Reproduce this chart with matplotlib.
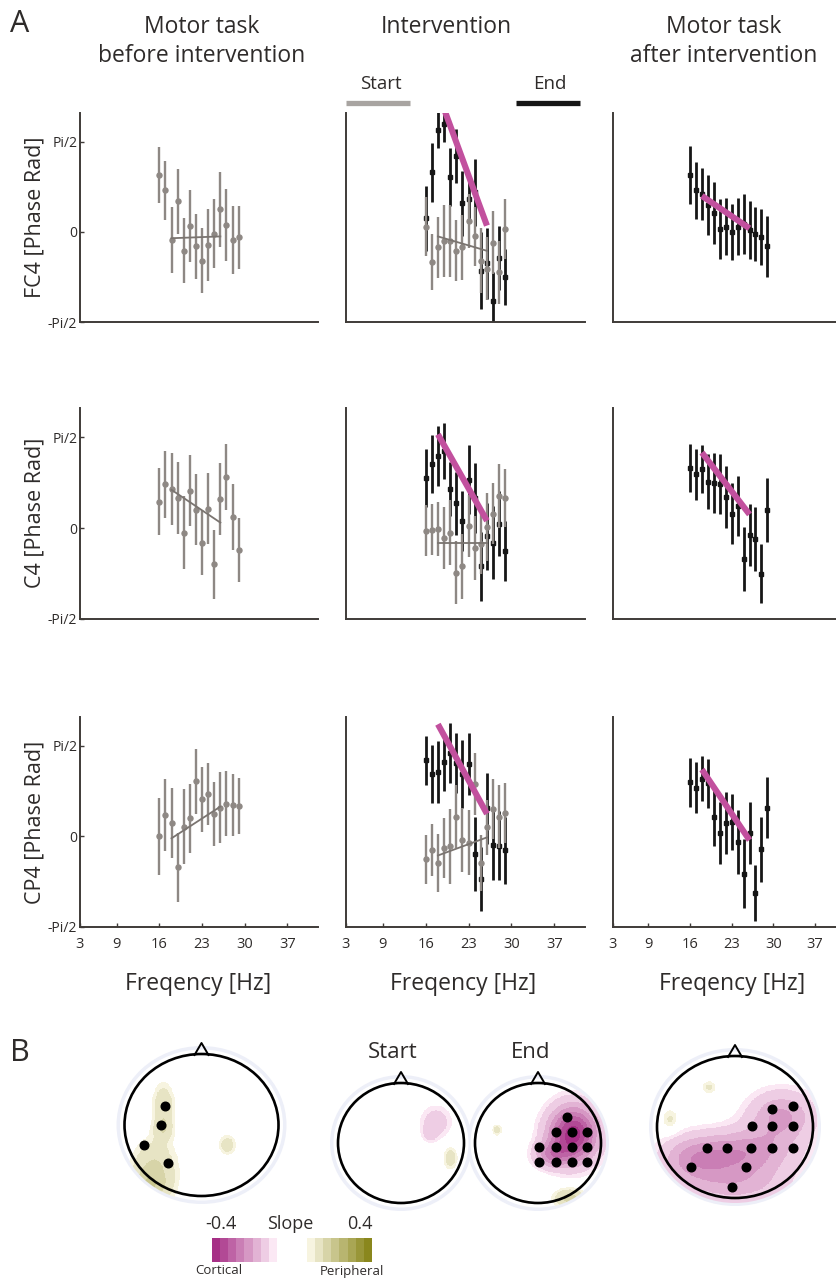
import numpy as np
import matplotlib
matplotlib.use("Agg")
import matplotlib.pyplot as plt
from matplotlib.patches import Ellipse
from matplotlib.colors import ListedColormap, BoundaryNorm, to_rgb

plt.rcParams['font.family'] = ['Open Sans', 'DejaVu Sans']

# ---------------- data (phase in units of pi/2) ----------------
FREQ = [16, 17, 18, 19, 20, 21, 22, 23, 24, 25, 26, 27, 28, 29]
FIT_FREQ = [18, 26]
XTICKS = [3, 9, 16, 23, 30, 37]
XTICK_LABELS = ['3', '9', '16', '23', '30', '37']
YTICKS = [-1, 0, 1]
YTICK_LABELS = ['-Pi/2', '0', 'Pi/2']
ROW_LABELS = ['FC4 [Phase Rad]', 'C4 [Phase Rad]', 'CP4 [Phase Rad]']
COL_TITLES = ['Motor task\nbefore intervention', 'Intervention', 'Motor task\nafter intervention']

FC4_BEFORE = [0.63, 0.46, -0.09, 0.34, -0.21, 0.07, -0.16, -0.32, -0.15, -0.02, 0.25, 0.08, -0.09, -0.06]
FC4_BEFORE_ERR = [0.31, 0.33, 0.37, 0.36, 0.36, 0.40, 0.36, 0.36, 0.40, 0.38, 0.42, 0.40, 0.38, 0.35]
FC4_BEFORE_FIT = [-0.07, -0.05]
C4_BEFORE = [0.29, 0.48, 0.43, 0.33, -0.05, 0.41, 0.20, -0.16, 0.21, -0.40, 0.32, 0.56, 0.12, -0.24]
C4_BEFORE_ERR = [0.37, 0.37, 0.40, 0.40, 0.40, 0.39, 0.39, 0.36, 0.39, 0.38, 0.40, 0.36, 0.36, 0.35]
C4_BEFORE_FIT = [0.42, 0.06]
CP4_BEFORE = [0.0, 0.24, 0.15, -0.34, 0.11, 0.20, 0.61, 0.41, 0.47, 0.25, 0.32, 0.36, 0.35, 0.34]
CP4_BEFORE_ERR = [0.42, 0.40, 0.39, 0.38, 0.41, 0.38, 0.36, 0.36, 0.34, 0.35, 0.39, 0.36, 0.34, 0.31]
CP4_BEFORE_FIT = [-0.02, 0.33]

FC4_START = [0.06, -0.33, -0.17, -0.10, -0.10, -0.21, -0.17, 0.12, -0.05, -0.32, -0.41, -0.12, -0.45, 0.03]
FC4_START_ERR = [0.33, 0.31, 0.34, 0.40, 0.40, 0.34, 0.36, 0.30, 0.33, 0.36, 0.35, 0.35, 0.35, 0.33]
FC4_START_FIT = [-0.05, -0.21]
FC4_END = [0.15, 0.66, 1.13, 1.20, 0.61, 0.84, 0.32, 0.37, 0.44, -0.43, -0.35, -0.77, -0.29, -0.50]
FC4_END_ERR = [0.36, 0.33, 0.20, 0.20, 0.32, 0.30, 0.36, 0.27, 0.37, 0.43, 0.39, 0.32, 0.36, 0.31]
FC4_END_FIT = [1.55, 0.07]
C4_START = [-0.03, -0.02, -0.01, -0.11, -0.05, -0.49, -0.42, 0.02, -0.22, -0.17, 0.01, 0.16, 0.35, 0.33]
C4_START_ERR = [0.28, 0.28, 0.30, 0.34, 0.36, 0.35, 0.36, 0.34, 0.35, 0.33, 0.37, 0.34, 0.35, 0.32]
C4_START_FIT = [-0.16, -0.16]
C4_END = [0.55, 0.70, 0.79, 0.85, 0.43, 0.27, 0.08, 0.53, 0.33, -0.42, -0.09, -0.16, 0.05, -0.25]
C4_END_ERR = [0.32, 0.32, 0.33, 0.31, 0.30, 0.35, 0.33, 0.38, 0.38, 0.38, 0.37, 0.40, 0.36, 0.33]
C4_END_FIT = [1.03, 0.08]
CP4_START = [-0.25, -0.15, -0.29, -0.13, -0.11, 0.22, -0.04, -0.07, 0.58, -0.29, 0.10, 0.30, 0.22, 0.26]
CP4_START_ERR = [0.27, 0.29, 0.32, 0.33, 0.41, 0.35, 0.35, 0.36, 0.34, 0.31, 0.30, 0.33, 0.35, 0.33]
CP4_START_FIT = [-0.21, -0.01]
CP4_END = [0.84, 0.69, 0.71, 0.82, 0.92, 0.81, 0.69, 0.80, -0.19, -0.47, 0.31, -0.09, -0.10, -0.15]
CP4_END_ERR = [0.27, 0.32, 0.34, 0.32, 0.33, 0.33, 0.38, 0.34, 0.41, 0.35, 0.39, 0.39, 0.38, 0.37]
CP4_END_FIT = [1.24, 0.25]

FC4_AFTER = [0.63, 0.46, 0.42, 0.30, 0.21, 0.03, 0.06, 0.0, 0.06, 0.09, 0.02, -0.02, -0.06, -0.16]
FC4_AFTER_ERR = [0.32, 0.32, 0.29, 0.33, 0.34, 0.33, 0.32, 0.31, 0.32, 0.33, 0.32, 0.30, 0.31, 0.34]
FC4_AFTER_FIT = [0.40, 0.04]
C4_AFTER = [0.66, 0.59, 0.65, 0.51, 0.50, 0.48, 0.34, 0.16, 0.24, -0.34, -0.08, -0.12, -0.50, 0.20]
C4_AFTER_ERR = [0.26, 0.28, 0.26, 0.30, 0.33, 0.33, 0.34, 0.33, 0.33, 0.35, 0.34, 0.35, 0.32, 0.35]
C4_AFTER_FIT = [0.83, 0.15]
CP4_AFTER = [0.60, 0.54, 0.64, 0.59, 0.21, 0.04, 0.15, 0.16, -0.06, -0.41, 0.04, -0.62, -0.14, 0.32]
CP4_AFTER_ERR = [0.27, 0.28, 0.25, 0.27, 0.32, 0.34, 0.34, 0.31, 0.35, 0.38, 0.34, 0.31, 0.36, 0.34]
CP4_AFTER_FIT = [0.74, -0.04]

# topographies: blobs (x, y, sx, sy, slope) in head-normalised units; electrodes (x, y)
TOPO_BEFORE_BLOBS = [(-0.50, 0.28, 0.10, 0.22, 0.09), (-0.50, -0.05, 0.09, 0.12, 0.07),
                     (-0.62, -0.62, 0.20, 0.28, 0.11), (-0.75, -0.90, 0.20, 0.15, 0.10),
                     (0.33, -0.28, 0.08, 0.10, 0.08)]
TOPO_BEFORE_ELEC = [(-0.48, 0.27), (-0.53, 0.0), (-0.75, -0.28), (-0.43, -0.53)]
TOPO_START_BLOBS = [(0.55, 0.35, 0.18, 0.20, -0.08), (0.45, 0.15, 0.08, 0.10, -0.05),
                    (0.78, -0.25, 0.08, 0.14, 0.08)]
TOPO_START_ELEC = []
TOPO_END_BLOBS = [(0.55, 0.15, 0.28, 0.33, -0.38), (0.20, -0.20, 0.20, 0.15, -0.15),
                  (-0.66, 0.22, 0.06, 0.07, 0.07), (0.50, -0.92, 0.18, 0.12, 0.12)]
TOPO_END_ELEC = [(0.46, 0.44), (0.29, 0.18), (0.54, 0.18), (0.78, 0.18),
                 (0.02, -0.07), (0.29, -0.07), (0.54, -0.07), (0.78, -0.07),
                 (0.02, -0.31), (0.29, -0.31), (0.54, -0.31), (0.78, -0.31)]
TOPO_AFTER_BLOBS = [(0.60, 0.15, 0.30, 0.25, -0.16), (0.10, -0.35, 0.45, 0.22, -0.17),
                    (-0.55, -0.45, 0.30, 0.22, -0.13), (0.0, -0.80, 0.50, 0.22, -0.12),
                    (-0.33, 0.56, 0.07, 0.07, 0.06), (-0.83, 0.10, 0.08, 0.12, 0.06)]
TOPO_AFTER_ELEC = [(0.48, 0.26), (0.74, 0.30), (0.22, 0.02), (0.48, 0.02), (0.74, 0.02),
                   (-0.36, -0.29), (-0.10, -0.29), (0.20, -0.29), (0.48, -0.29), (0.74, -0.29),
                   (-0.56, -0.57), (0.14, -0.57), (-0.04, -0.85)]
SLOPE_LIMITS = ['-0.4', '0.4']

# ---------------- styles ----------------
W, H = 837, 1279
GRAY = '#8e8884'
BLACK = '#161616'
MAGENTA = '#c2509e'
SPINE = '#3f3b38'
TXT = '#2e2b2a'

fig = plt.figure(figsize=(W / 100, H / 100), dpi=100)
bg = fig.add_axes([0, 0, 1, 1])
bg.set_xlim(0, W)
bg.set_ylim(H, 0)
bg.axis('off')


def px_axes(x0, y0, x1, y1):
    ax = fig.add_axes([x0 / W, 1 - y1 / H, (x1 - x0) / W, (y1 - y0) / H])
    ax.set_facecolor('none')
    return ax


rows_y = [(113, 322), (408, 619), (717, 927)]
cols_x = [(80, 318, 42.0), (346, 585, 42.0), (612.6, 837, 40.7)]

before = [(FC4_BEFORE, FC4_BEFORE_ERR, FC4_BEFORE_FIT), (C4_BEFORE, C4_BEFORE_ERR, C4_BEFORE_FIT),
          (CP4_BEFORE, CP4_BEFORE_ERR, CP4_BEFORE_FIT)]
start = [(FC4_START, FC4_START_ERR, FC4_START_FIT), (C4_START, C4_START_ERR, C4_START_FIT),
         (CP4_START, CP4_START_ERR, CP4_START_FIT)]
end = [(FC4_END, FC4_END_ERR, FC4_END_FIT), (C4_END, C4_END_ERR, C4_END_FIT),
       (CP4_END, CP4_END_ERR, CP4_END_FIT)]
after = [(FC4_AFTER, FC4_AFTER_ERR, FC4_AFTER_FIT), (C4_AFTER, C4_AFTER_ERR, C4_AFTER_FIT),
         (CP4_AFTER, CP4_AFTER_ERR, CP4_AFTER_FIT)]


def draw_gray(ax, vals, errs, fit):
    ax.errorbar(FREQ, vals, yerr=errs, fmt='o', color=GRAY, ms=3.6, elinewidth=1.7,
                capsize=0, zorder=3)
    ax.plot(FIT_FREQ, fit, color='#7a7470', lw=1.3, zorder=4)


def draw_black(ax, vals, errs, fit):
    ax.errorbar(FREQ, vals, yerr=errs, fmt='s', color=BLACK, ms=3.4, elinewidth=2.0,
                capsize=0, zorder=2)
    ax.plot(FIT_FREQ, fit, color=MAGENTA, lw=4.4, solid_capstyle='butt', zorder=5)


for r, (y0, y1) in enumerate(rows_y):
    for c, (x0, x1, xmax) in enumerate(cols_x):
        ax = px_axes(x0, y0, x1, y1)
        ax.set_xlim(3, xmax)
        ax.set_ylim(-1, 1.32)
        for s in ['top', 'right']:
            ax.spines[s].set_visible(False)
        for s in ['left', 'bottom']:
            ax.spines[s].set_color(SPINE)
            ax.spines[s].set_linewidth(1.4)
        if c == 0:
            draw_gray(ax, *before[r])
            ax.set_yticks(YTICKS)
            ax.set_yticklabels(YTICK_LABELS, fontsize=10, color=TXT)
            ax.tick_params(axis='y', direction='in', length=3, width=1, color=SPINE, pad=2)
        elif c == 1:
            draw_black(ax, *end[r])
            draw_gray(ax, *start[r])
            ax.set_yticks([])
        else:
            draw_black(ax, *after[r])
            ax.set_yticks([])
        if r == 2:
            ax.set_xticks(XTICKS)
            ax.set_xticklabels(XTICK_LABELS, fontsize=10.5, color=TXT)
            ax.tick_params(axis='x', direction='in', length=3, width=1, color=SPINE, pad=7)
        else:
            ax.set_xticks([])

# texts, panel A
bg.text(10, 24, 'A', fontsize=22, color=TXT, va='center', ha='left')
bg.text(10, 1053, 'B', fontsize=22, color=TXT, va='center', ha='left')
title_x = [202, 446, 724]
for tx, t in zip(title_x, COL_TITLES):
    bg.text(tx, 15, t, fontsize=16.5, color=TXT, ha='center', va='top', linespacing=1.25,
            multialignment='center')
row_centers = [217, 513, 822]
for yc, lab in zip(row_centers, ROW_LABELS):
    bg.text(35, yc, lab, fontsize=15.5, color=TXT, rotation=90, ha='center', va='center')
for xc in [198, 463, 732]:
    bg.text(xc, 984, 'Freqency [Hz]', fontsize=16.5, color=TXT, ha='center', va='center')

# Start / End legend
bg.text(381, 84, 'Start', fontsize=13.5, color=TXT, ha='center', va='center')
bg.text(550, 84, 'End', fontsize=13.5, color=TXT, ha='center', va='center')
bg.plot([346, 410], [102.5, 102.5], color='#a8a4a1', lw=3.8, solid_capstyle='butt')
bg.plot([516, 580], [102.5, 102.5], color=BLACK, lw=3.8, solid_capstyle='butt')

# ---------------- panel B: topographies ----------------
neg = [np.array(to_rgb('#a62f86')) * (1 - t) + np.array(to_rgb('#fbe8f4')) * t for t in np.linspace(0, 1, 8)]
pos = [np.array(to_rgb('#f7f4e0')) * (1 - t) + np.array(to_rgb('#8a871d')) * t for t in np.linspace(0, 1, 8)]
cmap = ListedColormap(neg + pos)
norm = BoundaryNorm(np.linspace(-0.4, 0.4, 17), cmap.N)

heads = [((201.5, 1125, 77, 71), TOPO_BEFORE_BLOBS, TOPO_BEFORE_ELEC),
         ((401, 1143, 63, 60), TOPO_START_BLOBS, TOPO_START_ELEC),
         ((538, 1143, 63, 60), TOPO_END_BLOBS, TOPO_END_ELEC),
         ((735, 1127, 78, 71), TOPO_AFTER_BLOBS, TOPO_AFTER_ELEC)]

g = np.linspace(-1.15, 1.15, 240)
GX, GY = np.meshgrid(g, g)
for (cx, cy, hw, hh), blobs, elecs in heads:
    halo = Ellipse((cx, cy), 2 * hw + 16, 2 * hh + 16, facecolor='#edeff8', edgecolor='none', zorder=1)
    bg.add_patch(halo)
    inner = Ellipse((cx, cy), 2 * hw + 9, 2 * hh + 9, facecolor='white', edgecolor='none', zorder=1.5)
    bg.add_patch(inner)
    field = np.zeros_like(GX)
    for bx, by, sx, sy, amp in blobs:
        field += amp * np.exp(-((GX - bx) ** 2 / (2 * sx ** 2) + (GY - by) ** 2 / (2 * sy ** 2)))
    field = np.ma.masked_where(np.abs(field) < 0.03, field)
    im = bg.imshow(field, cmap=cmap, norm=norm, origin='lower', aspect='auto',
                   extent=(cx - 1.15 * hw, cx + 1.15 * hw, cy + 1.15 * hh, cy - 1.15 * hh),
                   interpolation='nearest', zorder=2)
    clip = Ellipse((cx, cy), 2 * hw + 10, 2 * hh + 10, transform=bg.transData, facecolor='none', edgecolor='none')
    bg.add_patch(clip)
    im.set_clip_path(clip)
    bg.add_patch(Ellipse((cx, cy), 2 * hw, 2 * hh, facecolor='none', edgecolor='black', lw=1.9, zorder=4))
    bg.plot([cx - 7, cx, cx + 7], [cy - hh + 1, cy - hh - 11, cy - hh + 1], color='black', lw=1.4, zorder=4)
    if elecs:
        ex = [cx + e[0] * hw for e in elecs]
        ey = [cy - e[1] * hh for e in elecs]
        bg.plot(ex, ey, 'o', color='black', ms=6.2, zorder=5)

bg.set_xlim(0, W)
bg.set_ylim(H, 0)

bg.text(393, 1052, 'Start', fontsize=16, color=TXT, ha='center', va='center')
bg.text(531, 1053, 'End', fontsize=16, color=TXT, ha='center', va='center')

# slope colour scale
neg_vals = np.linspace(-0.375, -0.025, 8)[None, :]
pos_vals = np.linspace(0.025, 0.375, 8)[None, :]
bg.imshow(neg_vals, cmap=cmap, norm=norm, aspect='auto', extent=(212, 277, 1262, 1238),
          interpolation='nearest', zorder=3)
bg.imshow(pos_vals, cmap=cmap, norm=norm, aspect='auto', extent=(307, 372, 1262, 1238),
          interpolation='nearest', zorder=3)
bg.set_xlim(0, W)
bg.set_ylim(H, 0)
bg.text(221, 1224, SLOPE_LIMITS[0], fontsize=13, color=TXT, ha='center', va='center')
bg.text(290, 1224, 'Slope', fontsize=13, color=TXT, ha='center', va='center')
bg.text(360, 1224, SLOPE_LIMITS[1], fontsize=13, color=TXT, ha='center', va='center')
bg.text(219, 1270, 'Cortical', fontsize=9.5, color=TXT, ha='center', va='center')
bg.text(352, 1272, 'Peripheral', fontsize=9.5, color=TXT, ha='center', va='center')

fig.savefig('out.png', dpi=100)
